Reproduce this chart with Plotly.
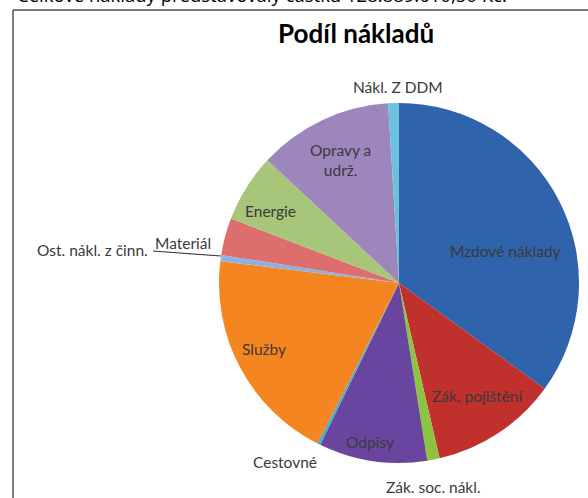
import plotly.graph_objects as go

# cost categories, clockwise from 12 o'clock (values in thousands Kč)
labels = ['Mzdové náklady', 'Zák. pojištění', 'Zák. soc. nákl.', 'Odpisy', 'Cestovné',
          'Služby', 'Ost. nákl. z činn.', 'Materiál', 'Energie', 'Opravy a<br>udrž.', 'Nákl. Z DDM']
values = [45100, 14680, 1430, 12530, 360, 25060, 720, 4300, 7880, 15580, 1250]
colors = ['#2F63AC', '#C0302C', '#8CC341', '#6A45A0', '#4BACC6', '#F58520',
          '#8EB2E0', '#DE6E6E', '#A7C67A', '#9C86BC', '#6CC0DC']

# where the data labels sit (px from top-left of the 588x498 page)
label_pos = [(505, 251), (477, 396), (433, 487), (370, 442), (285, 462),
             (264, 349), (92, 250), (183, 243), (270, 211), (340, 160), (398, 87)]

W, H = 588, 498
fig = go.Figure()

fig.add_trace(go.Pie(
    labels=labels, values=values,
    marker=dict(colors=colors, line=dict(width=0)),
    sort=False, direction='clockwise', rotation=0,
    textinfo='none', hoverinfo='label+value', showlegend=False,
    domain=dict(x=[219 / W, 579 / W], y=[1 - 463 / H, 1 - 103 / H]),
))

for lab, (px, py) in zip(labels, label_pos):
    fig.add_annotation(x=px / W, y=1 - py / H, xref='paper', yref='paper',
                       xanchor='center', yanchor='middle',
                       text=lab, showarrow=False,
                       font=dict(family='Lato', size=15.5, color='#3a3a3a'))

# leader line for the thin slice
fig.add_shape(type='line', xref='paper', yref='paper',
              x0=153 / W, y0=1 - 251 / H, x1=221 / W, y1=1 - 256 / H,
              line=dict(color='#333333', width=1.2))

# chart frame (cut off at right and bottom)
fig.add_shape(type='line', xref='paper', yref='paper',
              x0=13 / W, y0=1 - 10 / H, x1=1, y1=1 - 10 / H,
              line=dict(color='#7A7A7A', width=2))
fig.add_shape(type='line', xref='paper', yref='paper',
              x0=13 / W, y0=1 - 10 / H, x1=13 / W, y1=0,
              line=dict(color='#7A7A7A', width=2))

# chart title
fig.add_annotation(x=356 / W, y=1 - 33 / H, xref='paper', yref='paper',
                   xanchor='center', yanchor='middle',
                   text='<b>Podíl nákladů</b>', showarrow=False,
                   font=dict(family='Lato', size=26, color='#000000'))

# sentence above the chart, mostly cut off by the top edge
fig.add_annotation(x=15 / W, y=1 - 9 / H, xref='paper', yref='paper',
                   xanchor='left', yanchor='bottom',
                   text='Celkové náklady představovaly částku 128.889.610,50 Kč.',
                   showarrow=False,
                   font=dict(family='Open Sans', size=18.5, color='#000000'))

fig.update_layout(width=W, height=H, margin=dict(l=0, r=0, t=0, b=0),
                  paper_bgcolor='white', plot_bgcolor='white')

# drop the browser's default body margin so the figure fills the window
fig.write_html("out.html", config={'displayModeBar': False},
               post_script="document.body.style.margin='0';")
